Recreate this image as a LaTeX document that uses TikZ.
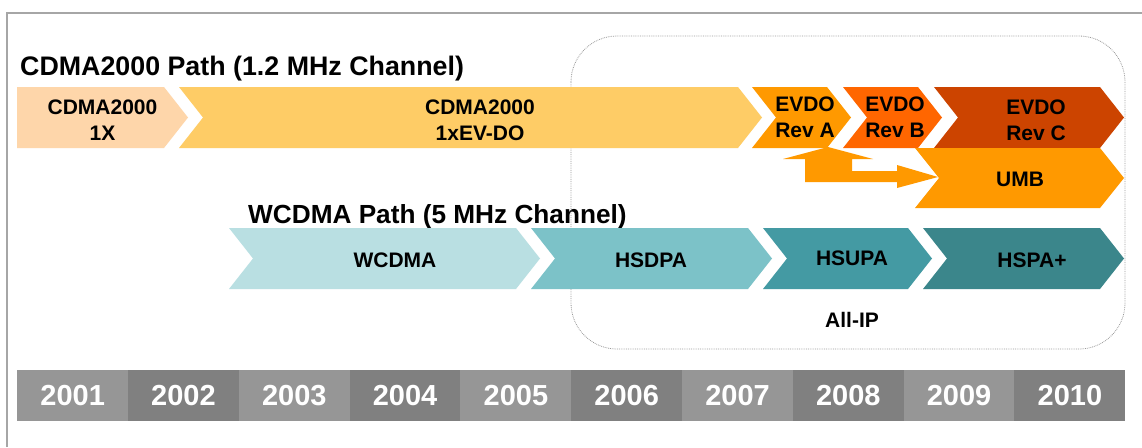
\documentclass[tikz,border=0pt]{standalone}
\usepackage{fontspec}
\setmainfont{Liberation Sans}
\definecolor{cpeach}{HTML}{FED6AA}
\definecolor{cyel}{HTML}{FECC66}
\definecolor{corA}{HTML}{FF9900}
\definecolor{corB}{HTML}{FF6600}
\definecolor{corC}{HTML}{CC4400}
\definecolor{tA}{HTML}{B9DFE2}
\definecolor{tB}{HTML}{7CC2C8}
\definecolor{tC}{HTML}{449AA3}
\definecolor{tD}{HTML}{3B868B}
\definecolor{ylight}{HTML}{969696}
\definecolor{ydark}{HTML}{808080}
\definecolor{framegray}{HTML}{A6A6A6}
\definecolor{dotgray}{HTML}{9A9A9A}
\newcommand\chevshape[6]{\fill[#1] (#2,#4) -- (#3,#4) -- ({#3+24},{(#4+#5)/2}) -- (#3,#5) -- (#2,#5) -- ({#2+#6},{(#4+#5)/2}) -- cycle;}
\begin{document}
\begin{tikzpicture}[x=1pt,y=-1pt,
  lbl/.style={font=\fontsize{21}{26}\selectfont\bfseries, align=center, inner sep=0pt, text=black},
  ttl/.style={font=\fontsize{26.8}{30}\selectfont\bfseries, inner sep=0pt, anchor=base west},
  yr/.style={font=\fontsize{29}{32}\selectfont\bfseries, text=white, inner sep=0pt},
  ycell/.style={minimum width=111pt, minimum height=51pt, inner sep=0pt, anchor=west}]
\useasboundingbox (0,0) rectangle (1142,447);
\fill[white] (0,0) rectangle (1142,447);
% outer frame
\draw[framegray, line width=2pt] (7,447) -- (7,13) -- (1142,13);
% titles
\node[ttl] (t1) at (20,75) {CDMA2000 Path (1.2 MHz Channel)};
\node[ttl, font=\fontsize{26.2}{30}\selectfont\bfseries] (t2) at (248,223) {WCDMA Path (5 MHz Channel)};
% all-IP dotted region
\draw[dotgray, densely dotted, line width=0.8pt, rounded corners=46pt] (571,36) rectangle (1125,349);
% CDMA2000 row
\chevshape{cpeach}{17}{164}{87}{148}{0}
\chevshape{cyel}{179}{738}{87}{148}{24}
\chevshape{corA}{752}{827}{87}{148}{24}
\chevshape{corB}{843}{918}{87}{148}{24}
\chevshape{corC}{934}{1100}{87}{148}{24}
\chevshape{corA}{915}{1100}{148}{208}{24}
% arrow from Rev A to UMB
\fill[corA] (828,147) -- (873,159) -- (852,159) -- (852,171) -- (897,171) -- (897,165)
  -- (938,177) -- (897,188) -- (897,182) -- (805,182) -- (805,159) -- (783,159) -- cycle;
\node[lbl] (c1x) at (102.5,120.5) {CDMA2000\\1X};
\node[lbl] (cdo) at (480,120.5) {CDMA2000\\1xEV-DO};
\node[lbl] (ra) at (805,117) {EVDO\\Rev A};
\node[lbl] (rb) at (895,117) {EVDO\\Rev B};
\node[lbl] (rc) at (1036,120) {EVDO\\Rev C};
\node[lbl] (umb) at (1020,179.5) {UMB};
% WCDMA row
\chevshape{tA}{229}{516}{228}{289}{24}
\chevshape{tB}{531}{748}{228}{289}{24}
\chevshape{tC}{763}{908}{228}{289}{24}
\chevshape{tD}{923}{1100}{228}{289}{24}
\node[lbl] (wc) at (395,260) {WCDMA};
\node[lbl] (hd) at (651,260) {HSDPA};
\node[lbl] (hu) at (852,258) {HSUPA};
\node[lbl] (hp) at (1032,260.5) {HSPA+};
\node[lbl] (aip) at (852,319.5) {All-IP};
% years
\foreach \i/\y in {0/2001,1/2002,2/2003,3/2004,4/2005,5/2006,6/2007,7/2008,8/2009,9/2010}{
  \pgfmathtruncatemacro\odd{mod(\i,2)}
  \ifnum\odd=0 \def\yc{ylight}\else\def\yc{ydark}\fi
  \node[ycell, fill=\yc] (cell\y) at ({17+110.8*\i},395.5) {};
  \node[yr] (year\y) at (cell\y.center) {\y};
}
\end{tikzpicture}
\end{document}
